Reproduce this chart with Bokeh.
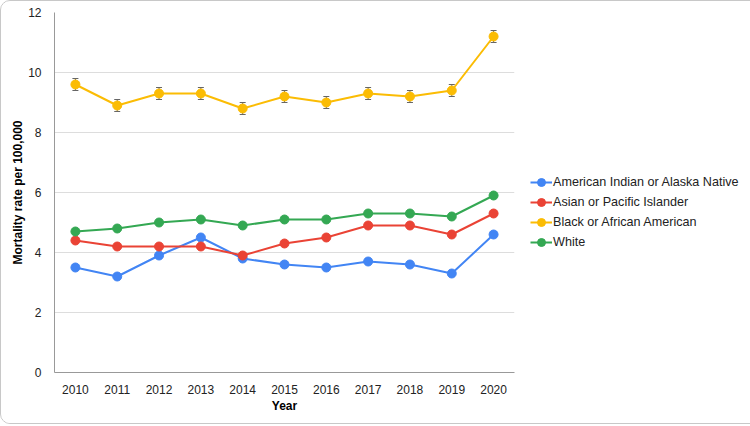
from bokeh.plotting import figure
from bokeh.models import (ColumnDataSource, Range1d, FactorRange, FixedTicker, Legend,
                          LegendItem, Whisker, TeeHead)
from bokeh.embed import file_html
from bokeh.resources import INLINE

years = ["2010", "2011", "2012", "2013", "2014", "2015", "2016", "2017", "2018", "2019", "2020"]
aian = [3.5, 3.2, 3.9, 4.5, 3.8, 3.6, 3.5, 3.7, 3.6, 3.3, 4.6]
api = [4.4, 4.2, 4.2, 4.2, 3.9, 4.3, 4.5, 4.9, 4.9, 4.6, 5.3]
black = [9.6, 8.9, 9.3, 9.3, 8.8, 9.2, 9.0, 9.3, 9.2, 9.4, 11.2]
white = [4.7, 4.8, 5.0, 5.1, 4.9, 5.1, 5.1, 5.3, 5.3, 5.2, 5.9]
err_aian = [0.1] * 11
err_api = [0.05] * 11
err_black = [0.2] * 11
err_white = [0.05] * 11
names = ["American Indian or Alaska Native", "Asian or Pacific Islander",
         "Black or African American", "White"]
y_ticks = [0, 2, 4, 6, 8, 10, 12]

series = [(aian, err_aian, "#4285F4"), (api, err_api, "#EA4335"),
          (black, err_black, "#FBBC04"), (white, err_white, "#34A853")]

FONT = "Liberation Sans"

p = figure(frame_width=460, frame_height=360, x_range=FactorRange(*years, range_padding=0),
           y_range=Range1d(0, 12), output_backend="svg", toolbar_location=None,
           min_border_left=53, min_border_top=11, min_border_right=20, min_border_bottom=51)
p.styles = {"border": "1px solid #c8c8c8", "border-radius": "10px", "overflow": "hidden"}
p.outline_line_color = None
p.background_fill_color = "white"
p.border_fill_color = "white"

p.xgrid.grid_line_color = None
p.ygrid.grid_line_color = "#dddddd"
p.ygrid.grid_line_width = 1
p.yaxis.ticker = FixedTicker(ticks=y_ticks)

for ax in (p.xaxis[0], p.yaxis[0]):
    ax.major_tick_line_color = None
    ax.minor_tick_line_color = None
    ax.axis_line_color = "#999999"
    ax.major_label_text_font = FONT
    ax.major_label_text_font_size = "12px"
    ax.major_label_text_color = "#222222"
    ax.axis_label_text_font = FONT
    ax.axis_label_text_font_size = "12px"
    ax.axis_label_text_font_style = "bold"
    ax.axis_label_text_color = "#000000"

p.xaxis.axis_label = "Year"
p.xaxis.major_label_standoff = 6
p.xaxis.axis_label_standoff = 2
p.yaxis.axis_label = "Mortality rate per 100,000"
p.yaxis.major_label_standoff = 7
p.yaxis.axis_label_standoff = 0

items = []
for (vals, errs, color), name in zip(series, names):
    src = ColumnDataSource(dict(x=years, y=vals,
                                lo=[v - e for v, e in zip(vals, errs)],
                                hi=[v + e for v, e in zip(vals, errs)]))
    ln = p.line("x", "y", source=src, line_color=color, line_width=2)
    w = Whisker(source=src, base="x", lower="lo", upper="hi", dimension="height",
                line_color="#666666", line_width=1,
                upper_head=TeeHead(size=6, line_color="#666666", line_width=1),
                lower_head=TeeHead(size=6, line_color="#666666", line_width=1))
    p.add_layout(w)
    sc = p.scatter("x", "y", source=src, size=9, fill_color=color, line_color=color)
    items.append(LegendItem(label=name, renderers=[ln, sc]))

legend = Legend(items=items, location=(16, 120), padding=0, margin=0, spacing=0,
                glyph_width=22, glyph_height=20, label_height=20, label_standoff=1,
                label_text_font=FONT, label_text_font_size="12.6px",
                label_text_color="#222222", border_line_color=None,
                background_fill_alpha=0)
p.add_layout(legend, "right")

open("out.html", "w").write(file_html(p, INLINE))
